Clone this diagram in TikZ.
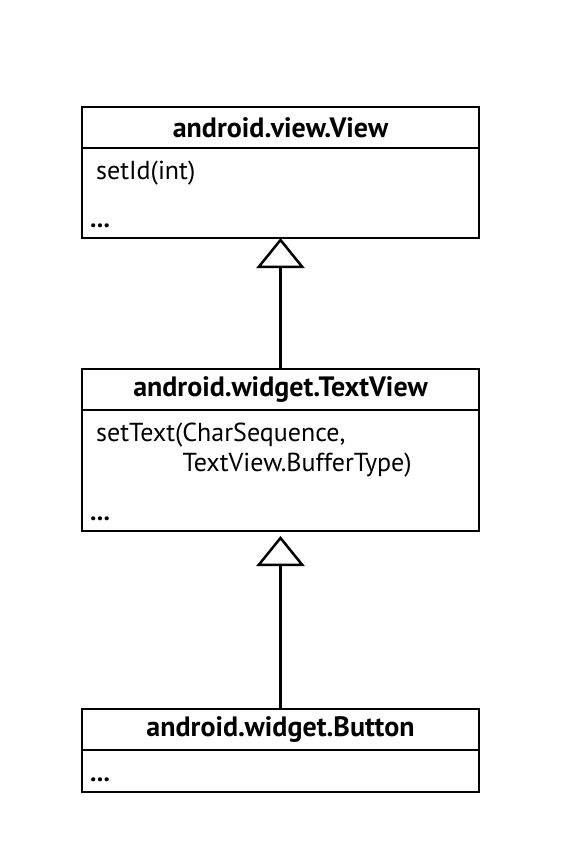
\documentclass[tikz,border=0pt]{standalone}
\usepackage{fontspec}
\setmainfont{PT Sans}
\usetikzlibrary{calc}
\usetikzlibrary{positioning, arrows.meta}

\begin{document}
\begin{tikzpicture}[x=1pt, y=1pt]
        % Define styles for shapes
        \tikzstyle{classhead} = [draw, line width=2.5pt, outer sep=0pt, inner sep=0pt, minimum width=397pt, minimum height=41pt, font=\fontsize{28}{32}\selectfont\bfseries]
        \tikzstyle{classbody} = [draw, line width=2.5pt, outer sep=0pt, inner sep=0pt, minimum width=397pt]
        \tikzstyle{member} = [anchor=base west, inner sep=0pt, font=\fontsize{26}{30}\selectfont]
        \tikzstyle{inherit} = [line width=2.5pt, -{Triangle[open, length=30pt, width=48pt]}]
        \useasboundingbox (0,0) rectangle (570,-842);

        % Draw shapes
        \node[classhead] (viewhead) at (280.5,-127.5) {android.view.View};
        \node[classbody, minimum height=90pt, below=0pt of viewhead] (viewbody) {};
        \node[member] (viewop) at ($(viewbody.north west)+(14,-32)$) {setId(int)};
        \node[member] (viewmore) at ($(viewbody.south west)+(8,11)$) {\textbf{...}};

        \node[classhead] (tvhead) at (280.5,-389.5) {android.widget.TextView};
        \node[classbody, minimum height=121pt, below=0pt of tvhead] (tvbody) {};
        \node[member] (tvop) at ($(tvbody.north west)+(14,-31.5)$) {setText(CharSequence,};
        \node[member] (tvarg) at ($(tvop.base west)+(86.5,-30)$) {TextView.BufferType)};
        \node[member] (tvmore) at ($(tvbody.south west)+(8,11)$) {\textbf{...}};

        \node[classhead] (btnhead) at (280.5,-729.5) {android.widget.Button};
        \node[classbody, minimum height=42pt, below=0pt of btnhead] (btnbody) {};
        \node[member] (btnmore) at ($(btnbody.south west)+(8,11)$) {\textbf{...}};

        % Draw arrows
        \draw[inherit] (tvhead.north) -- (viewbody.south);
        \draw[inherit, shorten >=5pt] (btnhead.north) -- (tvbody.south);
\end{tikzpicture}
\end{document}
